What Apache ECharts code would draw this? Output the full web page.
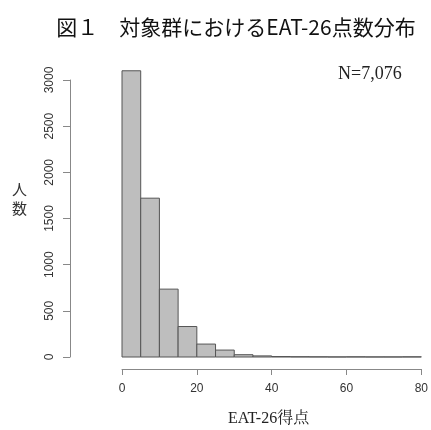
<!DOCTYPE html>
<html>
<head>
<meta charset="utf-8">
<script src="https://cdn.jsdelivr.net/npm/echarts@6/dist/echarts.min.js"></script>
<style>html,body{margin:0;padding:0;background:#fff;}#c{width:431px;height:430px;}</style>
</head>
<body>
<div id="c"></div>
<script>
var binStarts = [0,5,10,15,20,25,30,35,40,45,50,55,60,65,70,75];
var binWidth = 5;
var counts = [3100,1720,735,330,140,75,25,12,5,3,2,1,2,1,1,2];
var yTicks = {min:0, max:3000, interval:500};
var xTicks = {min:0, max:80, interval:20};

var data = binStarts.map(function(s,i){ return [s, s+binWidth, counts[i]]; });

var chart = echarts.init(document.getElementById('c'), null, {renderer:'canvas'});
chart.setOption({
  animation:false,
  backgroundColor:'#fff',
  grid:{left:122, right:5, top:80, bottom:73},
  xAxis:{type:'value', min:xTicks.min, max:xTicks.max, interval:xTicks.interval, offset:12,
    axisLine:{show:true, onZero:false, lineStyle:{color:'#888', width:1}},
    axisTick:{show:true, length:6, lineStyle:{color:'#888'}},
    axisLabel:{color:'#333', fontSize:12, fontFamily:'Arial, Liberation Sans', margin:14},
    splitLine:{show:false}},
  yAxis:{type:'value', min:yTicks.min, max:yTicks.max, interval:yTicks.interval, offset:52,
    axisLine:{show:true, onZero:false, lineStyle:{color:'#888', width:1}},
    axisTick:{show:true, length:7, lineStyle:{color:'#888'}},
    axisLabel:{color:'#333', fontSize:12, fontFamily:'Arial, Liberation Sans', rotate:90, margin:14,
      formatter:function(v){ return String(v); }},
    splitLine:{show:false}},
  series:[{
    type:'custom', clip:false,
    data:data,
    encode:{x:[0,1], y:2},
    renderItem:function(params, api){
      var p0 = api.coord([api.value(0), api.value(2)]);
      var p1 = api.coord([api.value(1), 0]);
      return {type:'rect', shape:{x:p0[0], y:p0[1], width:p1[0]-p0[0], height:p1[1]-p0[1]},
        style:{fill:'#bebebe', stroke:'#555', lineWidth:1}};
    }
  }],
  graphic:[
    {type:'text', x:236, y:27, style:{text:'図１　対象群におけるEAT-26点数分布', font:'400 21px "Noto Sans CJK JP"', fill:'#111', textAlign:'center', textVerticalAlign:'middle'}},
    {type:'text', x:338, y:65, style:{text:'N=7,076', font:'18px "Liberation Serif", "Times New Roman", serif', fill:'#222'}},
    {type:'text', x:12, y:180, style:{text:'人\n数', font:'15px "Noto Sans CJK JP"', fill:'#333', lineHeight:19}},
    {type:'text', x:228, y:411, style:{text:'EAT-26得点', font:'16px "Liberation Serif", "Noto Serif CJK JP", serif', fill:'#222'}}
  ]
});
</script>
</body>
</html>
